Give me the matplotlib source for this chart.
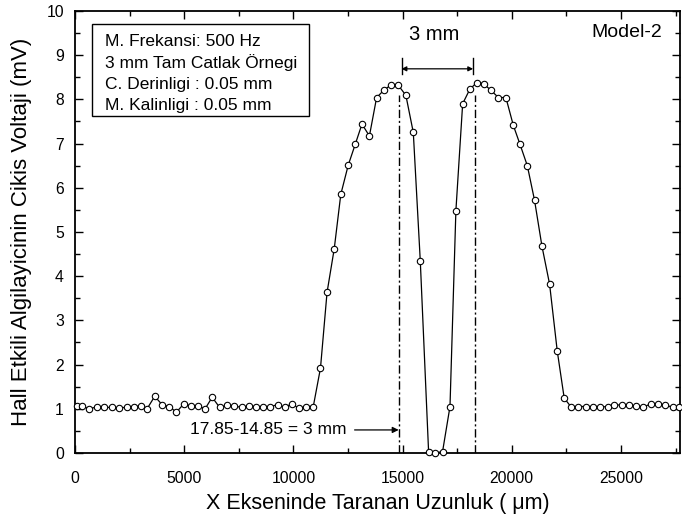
import numpy as np
import matplotlib.pyplot as plt
from matplotlib.patches import Rectangle
from matplotlib.ticker import MultipleLocator

plt.rcParams['font.family'] = ['Liberation Sans', 'DejaVu Sans']

# Tarama konumlari (um)
x_um = [100, 300, 650, 1000, 1330, 1680, 2030, 2370, 2690, 3000,
        3300, 3650, 3990, 4320, 4640, 4980, 5310, 5620, 5960, 6280,
        6620, 6960, 7300, 7630, 7970, 8300, 8620, 8940, 9280, 9600,
        9920, 10260, 10580, 10910,
        11240, 11540, 11870, 12170, 12510, 12830, 13140, 13480, 13810, 14150,
        14480, 14800, 15150, 15490, 15810, 16190, 16500, 16830, 17170, 17440,
        17750, 18080, 18400, 18720, 19050, 19390, 19730, 20070, 20370, 20710,
        21040, 21380, 21730, 22080, 22400, 22730, 23050, 23390, 23730, 24060,
        24400, 24700, 25040, 25380, 25700, 26030, 26370, 26690, 27020, 27360,
        27660]

# Cikis voltaji (mV)
v_mv = [1.06, 1.06, 1.00, 1.04, 1.03, 1.03, 1.01, 1.04, 1.05, 1.06,
        1.00, 1.28, 1.09, 1.05, 0.92, 1.11, 1.06, 1.06, 1.00, 1.26,
        1.03, 1.08, 1.06, 1.03, 1.06, 1.05, 1.03, 1.05, 1.09, 1.03,
        1.11, 1.01, 1.05, 1.05,
        1.92, 3.63, 4.62, 5.85, 6.51, 6.98, 7.44, 7.17, 8.04, 8.21,
        8.33, 8.32, 8.09, 7.25, 4.34, 0.03, 0.00, 0.03, 1.05, 5.48,
        7.90, 8.23, 8.38, 8.35, 8.20, 8.04, 8.04, 7.41, 6.99, 6.50,
        5.72, 4.68, 3.82, 2.31, 1.24, 1.03, 1.05, 1.05, 1.04, 1.05,
        1.04, 1.09, 1.08, 1.08, 1.06, 1.04, 1.11, 1.10, 1.09, 1.03,
        1.04]

# Catlak kenarlari
kenar_sol, kenar_sag = 14820, 18330

bilgi = ['M. Frekansi: 500 Hz', '3 mm Tam Catlak Örnegi',
         'C. Derinligi : 0.05 mm', 'M. Kalinligi : 0.05 mm']

fig = plt.figure(figsize=(6.82, 5.2), dpi=100)
ax = fig.add_axes([0.110, 0.129, 0.887, 0.850])

ax.plot(x_um, v_mv, '-o', color='k', lw=0.9, ms=4.6, mfc='white',
        mec='k', mew=0.8, clip_on=False, zorder=3)

# dikey kesikli cizgiler
for xk in (kenar_sol, kenar_sag):
    ax.plot([xk, xk], [0, 8.1], color='k', lw=1.0,
            dashes=(6, 2, 1.5, 2), zorder=2)

# 3 mm olcusu
ax.plot([14950, 14950], [8.57, 8.93], color='k', lw=1.0)
ax.plot([18230, 18230], [8.57, 8.93], color='k', lw=1.0)
ax.annotate('', xy=(14950, 8.69), xytext=(18230, 8.69),
            arrowprops=dict(arrowstyle='<|-|>', lw=0.9, color='k',
                            mutation_scale=7, shrinkA=0, shrinkB=0))
ax.text(16440, 9.46, '3 mm', fontsize=14.5, ha='center', va='center')

ax.annotate('17.85-14.85 = 3 mm', xy=(kenar_sol, 0.52), xytext=(12420, 0.52),
            fontsize=12.5, ha='right', va='center',
            arrowprops=dict(arrowstyle='-|>', lw=0.9, color='k',
                            mutation_scale=9, shrinkA=4, shrinkB=0))

ax.text(23630, 9.52, 'Model-2', fontsize=14, ha='left', va='center')

# bilgi kutusu
ax.add_patch(Rectangle((764, 7.63), 9965, 2.08, fill=False,
                       edgecolor='k', lw=1.0, zorder=4))
for i, satir in enumerate(bilgi):
    ax.text(1391, 9.31 - i * 0.487, satir, fontsize=12.5,
            ha='left', va='center', zorder=5)

ax.set_xlim(0, 27700)
ax.set_ylim(0, 10)
ax.xaxis.set_major_locator(MultipleLocator(5000))
ax.xaxis.set_minor_locator(MultipleLocator(2500))
ax.yaxis.set_major_locator(MultipleLocator(1))
ax.yaxis.set_minor_locator(MultipleLocator(0.5))
ax.tick_params(which='both', direction='in', top=True, right=True,
               width=1.0, labelsize=11.3)
ax.tick_params(which='major', length=6)
ax.tick_params(which='minor', length=3.5)
ax.tick_params(axis='x', pad=13)
ax.tick_params(axis='y', pad=8)
for s in ax.spines.values():
    s.set_linewidth(1.3)

ax.set_xlabel('X Ekseninde Taranan Uzunluk ( μm)', fontsize=15.5, labelpad=5)
ax.set_ylabel('Hall Etkili Algilayicinin Cikis Voltaji (mV)', fontsize=16,
              labelpad=10)

fig.savefig('out.png', dpi=100)
